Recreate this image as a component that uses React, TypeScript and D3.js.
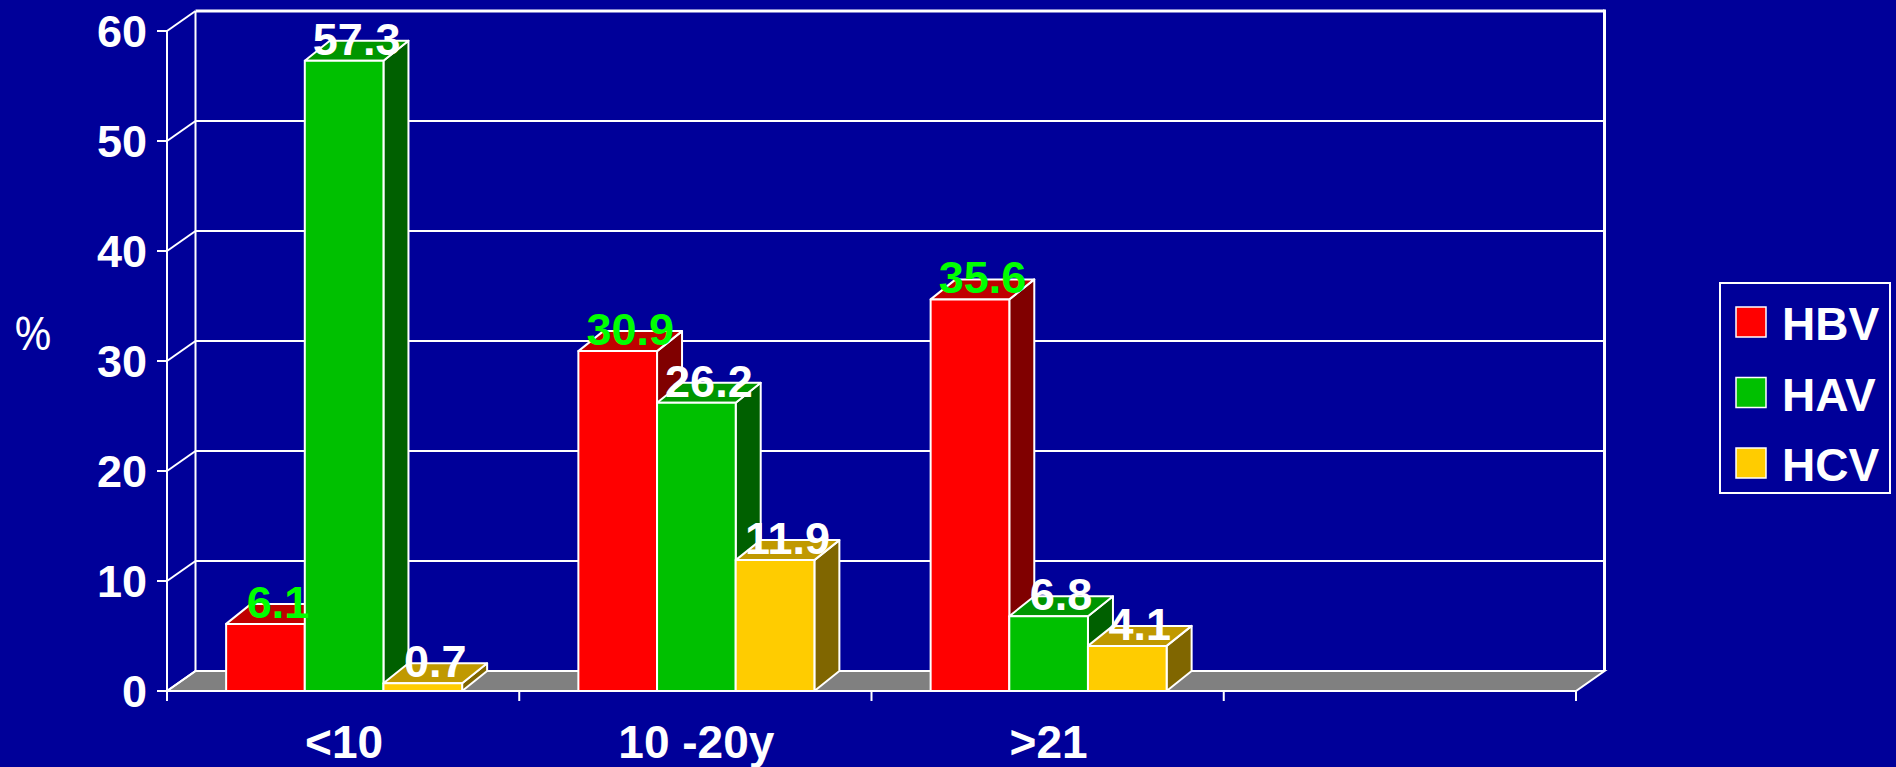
import React from "react";
import * as d3 from "d3";

const categories = ["<10", "10 -20y", ">21", ""];
const seriesNames = ["HBV", "HAV", "HCV"];
const hbv = [6.1, 30.9, 35.6];
const hav = [57.3, 26.2, 6.8];
const hcv = [0.7, 11.9, 4.1];
const yTicks = [0, 10, 20, 30, 40, 50, 60];

const seriesValues = [hbv, hav, hcv];
const frontColors = ["#FF0000", "#00C000", "#FFCC00"];
const topColors = ["#C00000", "#009600", "#C09900"];
const sideColors = ["#800000", "#006000", "#806600"];
const labelColors = ["#00FF00", "#FFFFFF", "#FFFFFF"];

const W = 1896;
const H = 767;
const BG = "#000099";

export default function App() {
  const left = 167;
  const right = 1576;
  const wdx = 28.5;
  const wdy = -20;
  const bdx = 25;
  const bdy = -20;

  const x = d3.scaleBand<string>().domain(categories).range([left, right]).padding(0);
  const y = d3.scaleLinear().domain([0, 60]).range([691, 31]);
  const groupW = 236;
  const inner = d3.scaleBand<string>().domain(seriesNames).range([0, groupW]).padding(0);
  const bw = inner.bandwidth();

  const font = "'Liberation Sans', Arial, sans-serif";

  const bars: any[] = [];
  seriesNames.forEach((s, si) => {
    seriesValues[si].forEach((v, ci) => {
      const gx = (x(categories[ci]) as number) + (x.bandwidth() - groupW) / 2 + 1;
      const x0 = gx + (inner(s) as number);
      const x1 = x0 + bw;
      const yt = y(v);
      const yb = y(0);
      bars.push({ si, ci, v, x0, x1, yt, yb });
    });
  });
  bars.sort((a, b) => a.ci - b.ci || a.si - b.si);

  const pts = (arr: number[][]) => arr.map((p) => p.join(",")).join(" ");

  return (
    <div style={{ position: "absolute", left: 0, top: 0, width: W, height: H, background: BG }}>
      <svg width={W} height={H} style={{ display: "block" }}>
        <rect x={0} y={0} width={W} height={H} fill={BG} />
        {/* floor */}
        <polygon
          points={pts([
            [left, y(0)],
            [right, y(0)],
            [right + wdx, y(0) + wdy],
            [left + wdx, y(0) + wdy],
          ])}
          fill="#808080"
          stroke="#FFFFFF"
          strokeWidth={2}
        />
        {/* back wall gridlines and side wall diagonals */}
        {yTicks.map((t) => (
          <g key={"g" + t}>
            {t > 0 && (
              <line
                x1={left + wdx}
                x2={right + wdx}
                y1={y(t) + wdy}
                y2={y(t) + wdy}
                stroke="#FFFFFF"
                strokeWidth={t === 60 ? 3 : 2}
              />
            )}
            <line x1={left} x2={left + wdx} y1={y(t)} y2={y(t) + wdy} stroke="#FFFFFF" strokeWidth={2} />
            <line x1={left - 10} x2={left} y1={y(t)} y2={y(t)} stroke="#FFFFFF" strokeWidth={2} />
            <text
              x={147}
              y={y(t) + 16}
              textAnchor="end"
              fill="#FFFFFF"
              fontFamily={font}
              fontWeight="bold"
              fontSize={45}
            >
              {t}
            </text>
          </g>
        ))}
        {/* back wall verticals */}
        <line x1={left + wdx} x2={left + wdx} y1={y(60) + wdy} y2={y(0) + wdy} stroke="#FFFFFF" strokeWidth={2} />
        <line x1={right + wdx} x2={right + wdx} y1={y(60) + wdy - 1.5} y2={y(0) + wdy} stroke="#FFFFFF" strokeWidth={3} />
        {/* front axis */}
        <line x1={left} x2={left} y1={y(60)} y2={y(0) + 10} stroke="#FFFFFF" strokeWidth={2} />
        <line x1={left} x2={right} y1={y(0)} y2={y(0)} stroke="#FFFFFF" strokeWidth={2} />
        {categories.map((c, i) => (
          <line
            key={"t" + i}
            x1={(x(c) as number) + x.bandwidth()}
            x2={(x(c) as number) + x.bandwidth()}
            y1={y(0)}
            y2={y(0) + 10}
            stroke="#FFFFFF"
            strokeWidth={2}
          />
        ))}
        {/* bars */}
        {bars.map((b, i) => (
          <g key={"b" + i} stroke="#FFFFFF" strokeWidth={2} strokeLinejoin="round">
            <polygon
              points={pts([
                [b.x1, b.yt],
                [b.x1 + bdx, b.yt + bdy],
                [b.x1 + bdx, b.yb + bdy],
                [b.x1, b.yb],
              ])}
              fill={sideColors[b.si]}
            />
            <polygon
              points={pts([
                [b.x0, b.yt],
                [b.x0 + bdx, b.yt + bdy],
                [b.x1 + bdx, b.yt + bdy],
                [b.x1, b.yt],
              ])}
              fill={topColors[b.si]}
            />
            <rect x={b.x0} y={b.yt} width={b.x1 - b.x0} height={b.yb - b.yt} fill={frontColors[b.si]} />
          </g>
        ))}
        {/* value labels */}
        {bars.map((b, i) => (
          <text
            key={"l" + i}
            x={(b.x0 + b.x1) / 2 + bdx / 2}
            y={b.yt - 6}
            textAnchor="middle"
            fill={labelColors[b.si]}
            fontFamily={font}
            fontWeight="bold"
            fontSize={45}
          >
            {b.v.toFixed(1)}
          </text>
        ))}
        {/* category labels */}
        {categories.map((c, i) => (
          <text
            key={"c" + i}
            x={(x(c) as number) + x.bandwidth() / 2 + 1}
            y={758}
            textAnchor="middle"
            fill="#FFFFFF"
            fontFamily={font}
            fontWeight="bold"
            fontSize={46}
          >
            {c}
          </text>
        ))}
        {/* y axis title */}
        <text x={14} y={350} fill="#FFFFFF" fontFamily="'Open Sans', 'Noto Sans', sans-serif" fontSize={46}>
          %
        </text>
        {/* legend */}
        <rect x={1720} y={283} width={170} height={210} fill="none" stroke="#FFFFFF" strokeWidth={2} />
        {seriesNames.map((s, i) => (
          <g key={"lg" + i}>
            <rect x={1736} y={307 + i * 70.5} width={30} height={30} fill={frontColors[i]} stroke="#FFFFFF" strokeWidth={1.5} />
            <text
              x={1782}
              y={340 + i * 70.5}
              fill="#FFFFFF"
              fontFamily={font}
              fontWeight="bold"
              fontSize={46}
            >
              {s}
            </text>
          </g>
        ))}
      </svg>
    </div>
  );
}
